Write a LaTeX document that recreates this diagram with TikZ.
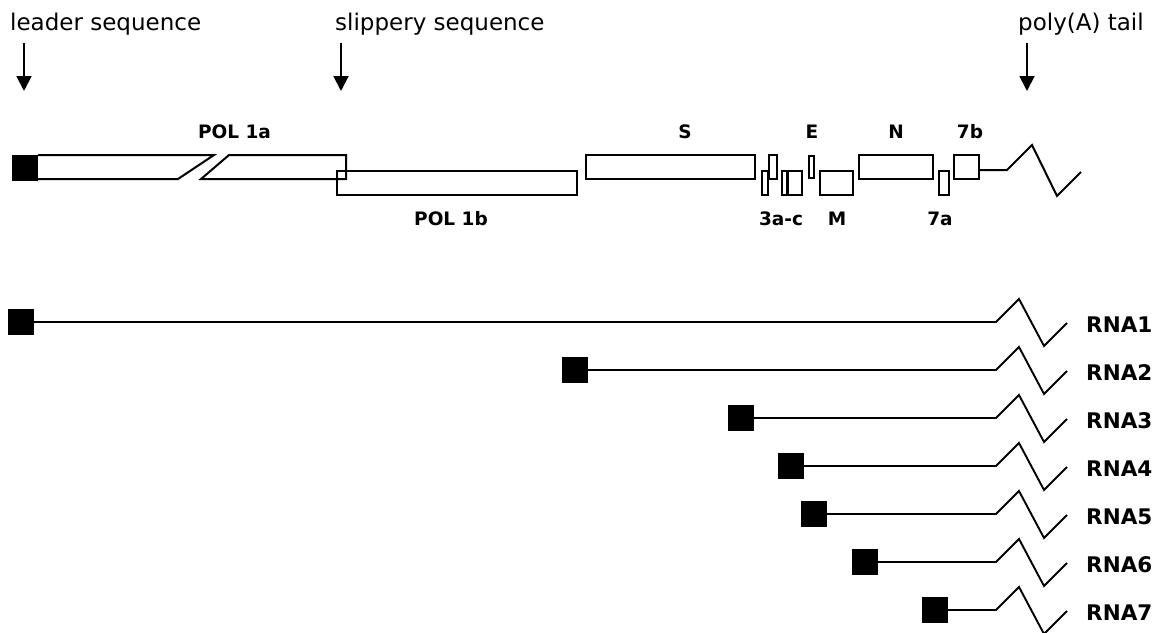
\documentclass[tikz,border=0pt]{standalone}
\usepackage{fontspec}
\setmainfont{DejaVu Sans}
\usetikzlibrary{arrows.meta}

\begin{document}
\begin{tikzpicture}[x=1pt,y=-1pt,
  toplabel/.style={font=\fontsize{23}{27}\selectfont, inner sep=0pt, anchor=base west},
  genelabel/.style={font=\bfseries\fontsize{18.5}{22}\selectfont, inner sep=0pt, anchor=base},
  rnalabel/.style={font=\bfseries\fontsize{21.5}{26}\selectfont, inner sep=0pt, anchor=base west},
  marker/.style={-{Triangle[width=15pt,length=15pt]}, line width=1.9pt},
  orf/.style={draw, line width=2pt, inner sep=0pt, outer sep=0pt, anchor=north west, minimum height=24pt},
  orfline/.style={line width=2pt, line join=miter},
  capbox/.style={fill=black, inner sep=0pt, outer sep=0pt, minimum width=26pt, minimum height=26pt},
  rna/.style={line width=1.9pt, line join=miter},
]
\useasboundingbox (0,0) rectangle (1159,632);

% ---- landmarks with arrows ----
\node[toplabel] (leadertxt) at (10,30) {leader sequence};
\node[toplabel] (slipperytxt) at (335,30) {slippery sequence};
\node[toplabel] (polyatxt) at (1018,30) {poly(A) tail};
\coordinate (ls) at (24,43);    \coordinate (le) at (24,91);
\coordinate (ss) at (341,43);   \coordinate (se) at (341,91);
\coordinate (ps) at (1027,43);  \coordinate (pe) at (1027,91);
\draw[marker] (ls) -- (le);
\draw[marker] (ss) -- (se);
\draw[marker] (ps) -- (pe);

% ---- genome map ----
% POL 1b (lower frame, thinner outline)
\node[orf, line width=1.5pt, minimum width=240pt] (pol1b) at (337,171) {};
% POL 1a, split in two parts by a slanted break
\draw[orfline] (38,155) -- (214,155) -- (178,179) -- (38,179);
\draw[orfline] (229,155) -- (346,155) -- (346,179) -- (201,179) -- cycle;
% 5' cap of the genome
\node[capbox, anchor=north west] (gcap) at (12,155) {};
% structural and accessory genes
\node[orf, minimum width=169pt] (S)    at (586,155) {};
\node[orf, minimum width=6pt]   (o3a)  at (762,171) {};
\node[orf, minimum width=8pt]   (o3b)  at (769,155) {};
\node[orf, minimum width=6pt]   (o3c)  at (782,171) {};
\node[orf, minimum width=15pt]  (o3d)  at (787,171) {};
\node[orf, minimum width=5pt, minimum height=22pt] (E) at (809,156) {};
\node[orf, minimum width=33pt]  (M)    at (820,171) {};
\node[orf, minimum width=74pt]  (N)    at (859,155) {};
\node[orf, minimum width=10pt]  (o7a)  at (939,171) {};
\node[orf, minimum width=25pt]  (o7b)  at (954,155) {};
% poly(A) tail
\coordinate (gtail) at (1007,170);
\draw[orfline] (o7b.east |- gtail) -- (gtail) -- ++(25,-25) -- ++(25,51) -- ++(24,-24);

% gene labels
\node[genelabel] (lpol1a) at (234.5,138) {POL 1a};
\node[genelabel] (lS)     at (685,138) {S};
\node[genelabel] (lE)     at (812,138) {E};
\node[genelabel] (lN)     at (896,138) {N};
\node[genelabel] (l7b)    at (970,138) {7b};
\node[genelabel] (lpol1b) at (451,225.5) {POL 1b};
\node[genelabel] (l3ac)   at (781,225.5) {3a-c};
\node[genelabel] (lM)     at (837,225.5) {M};
\node[genelabel] (l7a)    at (940,225.5) {7a};

% ---- nested subgenomic RNAs ----
\foreach \i/\xl/\y in {1/8/322, 2/562/370, 3/728/418, 4/778/466, 5/801/514, 6/852/562, 7/922/610}{
  \node[capbox, anchor=west] (cap\i) at (\xl,\y) {};
  \coordinate (bend\i) at (996,\y);
  \draw[rna] (cap\i.east) -- (bend\i) -- ++(23,-23) -- ++(25,47) -- ++(23,-23);
  \node[rnalabel] (rna\i) at (1086,\y+10) {RNA\i};
}
\end{tikzpicture}
\end{document}
